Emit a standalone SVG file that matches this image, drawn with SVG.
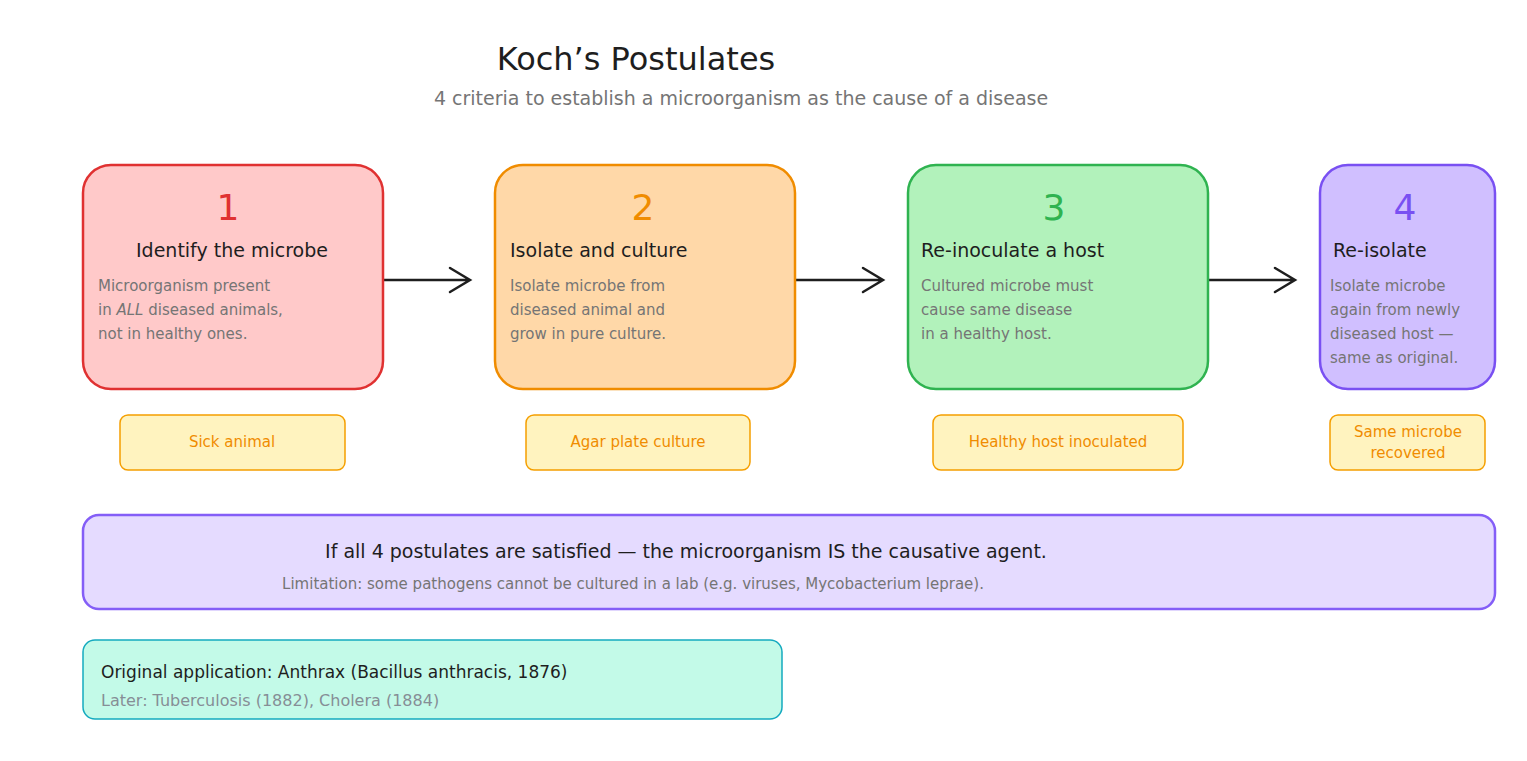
<svg xmlns="http://www.w3.org/2000/svg" width="1527" height="761" viewBox="0 0 1527 761">
<style>
text{font-family:"DejaVu Sans","Liberation Sans",sans-serif}
.num{font-size:36px;text-anchor:middle}
.h{font-size:19px;fill:#1e1e1e}
.b{font-size:15px;fill:#757575}
.tag{font-size:15px;fill:#f08c00;text-anchor:middle}
.tagbox{fill:#fff3bf;stroke:#f59f00;stroke-width:1.5}
.arr{stroke:#1e1e1e;stroke-width:2.5;fill:none;stroke-linecap:round}
</style>
<rect width="1527" height="761" fill="#fff"/>
<text x="636" y="70" font-size="32" text-anchor="middle" fill="#1e1e1e">Koch’s Postulates</text>
<text x="741" y="105" font-size="19" text-anchor="middle" fill="#757575">4 criteria to establish a microorganism as the cause of a disease</text>
<g id="connectors">
<path class="arr" d="M384 280H468M450 268L470 280L450 292"/>
<path class="arr" d="M796 280H881M863 268L883 280L863 292"/>
<path class="arr" d="M1209 280H1293M1275 268L1295 280L1275 292"/>
</g>
<g id="step1">
<rect x="83" y="165" width="300" height="224" rx="28" fill="#ffc9c9" stroke="#e03131" stroke-width="2.5"/>
<text class="num" x="228" y="220" fill="#e03131">1</text>
<text class="h" x="232" y="257" text-anchor="middle">Identify the microbe</text>
<text class="b" x="98" y="291">Microorganism present</text>
<text class="b" x="98" y="315">in <tspan font-style="italic">ALL</tspan> diseased animals,</text>
<text class="b" x="98" y="339">not in healthy ones.</text>
</g>
<g id="step2">
<rect x="495" y="165" width="300" height="224" rx="28" fill="#ffd8a8" stroke="#f08c00" stroke-width="2.5"/>
<text class="num" x="643" y="220" fill="#f08c00">2</text>
<text class="h" x="510" y="257">Isolate and culture</text>
<text class="b" x="510" y="291">Isolate microbe from</text>
<text class="b" x="510" y="315">diseased animal and</text>
<text class="b" x="510" y="339">grow in pure culture.</text>
</g>
<g id="step3">
<rect x="908" y="165" width="300" height="224" rx="28" fill="#b2f2bb" stroke="#2fb350" stroke-width="2.5"/>
<text class="num" x="1054" y="220" fill="#2fb350">3</text>
<text class="h" x="921" y="257">Re-inoculate a host</text>
<text class="b" x="921" y="291">Cultured microbe must</text>
<text class="b" x="921" y="315">cause same disease</text>
<text class="b" x="921" y="339">in a healthy host.</text>
</g>
<g id="step4">
<rect x="1320" y="165" width="175" height="224" rx="28" fill="#d0bfff" stroke="#7950f2" stroke-width="2.5"/>
<text class="num" x="1405" y="220" fill="#7950f2">4</text>
<text class="h" x="1333" y="257">Re-isolate</text>
<text class="b" x="1330" y="291">Isolate microbe</text>
<text class="b" x="1330" y="315">again from newly</text>
<text class="b" x="1330" y="339">diseased host —</text>
<text class="b" x="1330" y="363">same as original.</text>
</g>
<g id="tag1"><rect class="tagbox" x="120" y="415" width="225" height="55" rx="8"/><text class="tag" x="232" y="447">Sick animal</text></g>
<g id="tag2"><rect class="tagbox" x="526" y="415" width="224" height="55" rx="8"/><text class="tag" x="638" y="447">Agar plate culture</text></g>
<g id="tag3"><rect class="tagbox" x="933" y="415" width="250" height="55" rx="8"/><text class="tag" x="1058" y="447">Healthy host inoculated</text></g>
<g id="tag4"><rect class="tagbox" x="1330" y="415" width="155" height="55" rx="8"/><text class="tag" x="1408" y="437" font-size="14">Same microbe</text><text class="tag" x="1408" y="458" font-size="14">recovered</text></g>
<g id="conclusion">
<rect x="83" y="515" width="1412" height="94" rx="16" fill="#e5dbff" stroke="#845ef7" stroke-width="2.5"/>
<text x="686" y="558" font-size="19" text-anchor="middle" fill="#1e1e1e">If all 4 postulates are satisfied — the microorganism IS the causative agent.</text>
<text x="633" y="589" font-size="15" text-anchor="middle" fill="#757575">Limitation: some pathogens cannot be cultured in a lab (e.g. viruses, Mycobacterium leprae).</text>
</g>
<g id="history">
<rect x="83" y="640" width="699" height="79" rx="12" fill="#c3fae8" stroke="#15aabf" stroke-width="1.5"/>
<text x="101" y="678" font-size="17" fill="#1e1e1e">Original application: Anthrax (Bacillus anthracis, 1876)</text>
<text x="101" y="706" font-size="16" fill="#868e96">Later: Tuberculosis (1882), Cholera (1884)</text>
</g>
</svg>
